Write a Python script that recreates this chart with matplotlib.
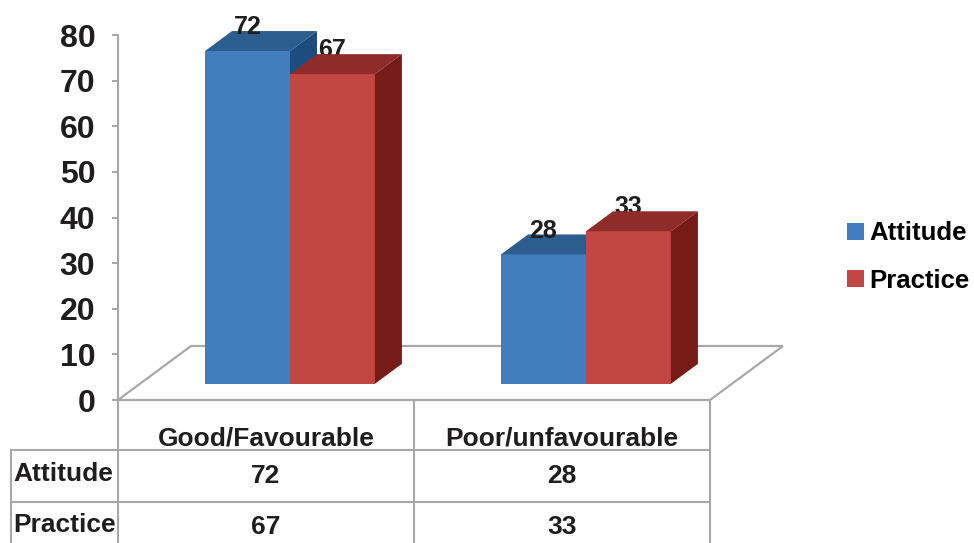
import matplotlib
matplotlib.use("Agg")
import matplotlib.pyplot as plt
from matplotlib.patches import Polygon, Patch
from matplotlib.transforms import Affine2D, blended_transform_factory

categories = ["Good/Favourable", "Poor/unfavourable"]
series_names = ["Attitude", "Practice"]
attitude = [72, 28]
practice = [67, 33]
yticks = [0, 10, 20, 30, 40, 50, 60, 70, 80]

# front, top, side shades of each series
blue = ("#427EBE", "#2C5D8F", "#1D4C7E")
red = ("#C24643", "#8F2B28", "#761C17")
grid_col = "#A8A8A8"
ink = "#1f1d1e"

plt.rcParams['font.family'] = ['Liberation Sans', 'DejaVu Sans']
plt.rcParams['font.weight'] = 'bold'

W, H = 974, 543
fig = plt.figure(figsize=(W / 100, H / 100), dpi=100)
# plot box: x=-0.5 at 118px, 296px per category; y 0..80 from 400px up to 35px
ax = fig.add_axes([118 / W, (H - 400) / H, (W - 118) / W, 365 / H])
ax.set_xlim(-0.5, -0.5 + (W - 118) / 296)
ax.set_ylim(0, 80)

for s in ["top", "right", "bottom"]:
    ax.spines[s].set_visible(False)
ax.spines["left"].set_color(grid_col)
ax.spines["left"].set_linewidth(1.5)
ax.set_xticks([])
ax.set_yticks(yticks)
ax.set_yticklabels([str(t) for t in yticks], fontsize=23, fontweight='bold', color=ink)
ax.tick_params(axis='y', direction='out', length=4.3, width=1.5, color=grid_col, pad=12)

# 3d floor
dep_x, dep_y = 73 / 296, 54 / 4.5625
n = len(categories)
floor = [(-0.5, 0), (n - 0.5, 0), (n - 0.5 + dep_x, dep_y), (-0.5 + dep_x, dep_y)]
ax.add_patch(Polygon(floor, closed=True, fill=False, edgecolor=grid_col, lw=1.6,
                     clip_on=False, zorder=1))

bw = 0.287
d0, d1 = 0.30, 0.37
persp = 1.013
ox, oy = d0 * dep_x + 0.007, d0 * dep_y
tx, ty = d1 * dep_x, d1 * dep_y


def bar3d(x, v, cols):
    h = v * persp
    l, r = x + ox, x + ox + bw
    b, t = oy, oy + h
    ax.add_patch(Polygon([(l, b), (r, b), (r, t), (l, t)], facecolor=cols[0],
                         edgecolor='none', zorder=3, clip_on=False))
    ax.add_patch(Polygon([(l, t), (r, t), (r + tx, t + ty), (l + tx, t + ty)],
                         facecolor=cols[1], edgecolor='none', zorder=3, clip_on=False))
    ax.add_patch(Polygon([(r, b), (r + tx, b + ty), (r + tx, t + ty), (r, t)],
                         facecolor=cols[2], edgecolor='none', zorder=3, clip_on=False))
    return (l + r) / 2, t + ty


for i in range(n):
    for k, (vals, cols) in enumerate([(attitude, blue), (practice, red)]):
        x0 = i - bw + k * bw
        cx, ytop = bar3d(x0, vals[i], cols)
        ax.text(cx, ytop - 0.7, str(vals[i]), ha='center', va='baseline', fontsize=18,
                fontweight='bold', color=ink, zorder=4 if k == 0 else 2.5,
                clip_on=False)

# data table under the plot (x in data units, y in pixels from top)
pxy = Affine2D().scale(1, -1).translate(0, H)
tr = blended_transform_factory(ax.transData, pxy)
row_lines = [450, 502]
label_left = -0.5 - (118 - 11) / 296
ax.plot([-0.5, -0.5], [400, 543], color=grid_col, lw=1.5, transform=tr, clip_on=False)
for i in range(n):
    ax.plot([i + 0.5, i + 0.5], [402, 543], color=grid_col, lw=1.5, transform=tr, clip_on=False)
for yl in row_lines:
    ax.plot([label_left, n - 0.5], [yl, yl], color=grid_col, lw=1.5, transform=tr, clip_on=False)
ax.plot([label_left, label_left], [450, 543], color=grid_col, lw=1.5, transform=tr, clip_on=False)

txt = dict(fontsize=19, fontweight='bold', color=ink, transform=tr, clip_on=False)
for i, c in enumerate(categories):
    ax.text(i, 439, c, ha='center', va='center', **txt)
for r, (name, vals) in enumerate([(series_names[0], attitude), (series_names[1], practice)]):
    yc = 474 + r * 51
    ax.text(label_left + 0.008, yc, name, ha='left', va='center', **txt)
    for i in range(n):
        ax.text(i, yc + 2, str(vals[i]), ha='center', va='center', **txt)

handles = [Patch(facecolor=blue[0]), Patch(facecolor=red[0])]
fig.legend(handles, series_names, loc='center left', bbox_to_anchor=(847 / W, 1 - 257 / H),
           frameon=False, handlelength=0.68, handleheight=0.68,
           handletextpad=0.2, labelspacing=0.9, borderpad=0, borderaxespad=0,
           prop={'weight': 'bold', 'size': 18.5})

fig.savefig("out.png", dpi=100)
